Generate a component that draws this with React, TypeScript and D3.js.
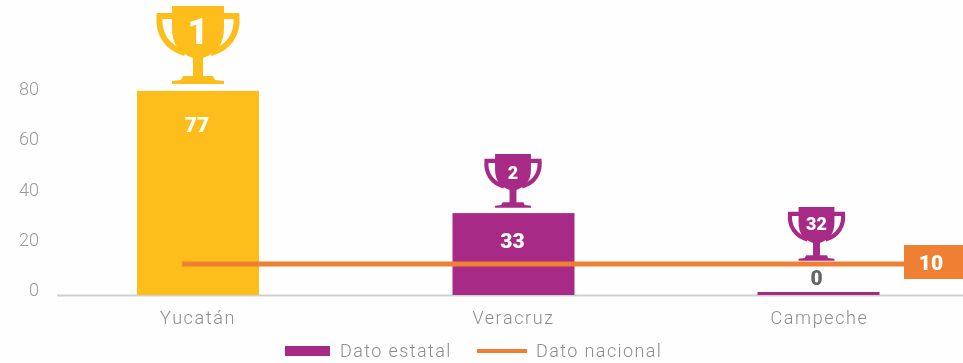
import React from "react";
import * as d3 from "d3";

const categories = ["Yucatán", "Veracruz", "Campeche"];
const barHeights = [81, 32.5, 1.2];
const barLabels = ["77", "33", "0"];
const ranks = ["1", "2", "32"];
const nationalLevel = 12.3;
const nationalLabel = "10";
const yTicks = [0, 20, 40, 60, 80];

const W = 963, H = 363;
const YELLOW = "#FDBE1A", PURPLE = "#A62B86", ORANGE = "#EF7F30";
const FONT = "Roboto, sans-serif";

const x = d3.scaleOrdinal<string, number>().domain(categories).range([198, 513.5, 818.5]);
const y = d3.scaleLinear().domain([0, 80]).range([295, 93.4]);
const barW = 122;

// trophy in a 82 x 78 box, origin top-left
const trophyPath = (() => {
  const p = d3.path();
  p.moveTo(15, 0); p.lineTo(67, 0); p.lineTo(67, 22);
  p.bezierCurveTo(67, 38, 60, 47, 46, 52);
  p.lineTo(46, 70); p.lineTo(56, 70); p.lineTo(58, 74); p.lineTo(67, 75); p.lineTo(67, 78);
  p.lineTo(15, 78); p.lineTo(15, 75); p.lineTo(24, 74); p.lineTo(26, 70); p.lineTo(36, 70);
  p.lineTo(36, 52);
  p.bezierCurveTo(22, 47, 15, 38, 15, 22);
  p.closePath();
  return p.toString();
})();
const handleL = (() => {
  const p = d3.path();
  p.moveTo(16, 10); p.lineTo(2.5, 10); p.bezierCurveTo(1, 28, 10, 42, 28, 47);
  return p.toString();
})();
const handleR = (() => {
  const p = d3.path();
  p.moveTo(66, 10); p.lineTo(79.5, 10); p.bezierCurveTo(81, 28, 72, 42, 54, 47);
  return p.toString();
})();

function Trophy({ cx, top, scale, color, label, size, ly }: any) {
  return (
    <g transform={`translate(${cx - 41 * scale},${top}) scale(${scale})`}>
      <path d={handleL} fill="none" stroke={color} strokeWidth={6} />
      <path d={handleR} fill="none" stroke={color} strokeWidth={6} />
      <path d={trophyPath} fill={color} />
      <text x={41} y={ly} textAnchor="middle" fontFamily={FONT} fontWeight={900} fontSize={size} fill="#fff">{label}</text>
    </g>
  );
}

export default function App() {
  const base = y(0);
  const lineY = y(nationalLevel);
  const trophyTop = [6, 154, 207];
  const trophyScale = [1, 0.69, 0.69];
  const trophySize = [36, 26, 26];
  const trophyLy = [38, 36, 33];
  return (
    <svg width={W} height={H} style={{ position: "absolute", left: 0, top: 0, background: "#fefefe" }}>
      <defs>
        <filter id="soft" x="-5%" y="-5%" width="110%" height="110%">
          <feGaussianBlur stdDeviation="0.6" />
        </filter>
      </defs>
      <g filter="url(#soft)">
        {yTicks.map((t) => (
          <text key={t} x={39} y={y(t) - 5} dy="0.36em" textAnchor="end" fontFamily={FONT} fontWeight={300} fontSize={18} fill="#999">{t}</text>
        ))}
        <line x1={57} x2={W} y1={base + 0.5} y2={base + 0.5} stroke="#cfcfcf" strokeWidth={2} />
        {categories.map((c, i) => (
          <rect key={c} x={x(c) - barW / 2} y={y(barHeights[i])} width={barW} height={base - y(barHeights[i])}
            fill={i === 0 ? YELLOW : PURPLE} />
        ))}
        {categories.map((c, i) => (
          <Trophy key={c} cx={x(c) + (i === 2 ? -2 : i === 1 ? -0.5 : 0)} top={trophyTop[i]} scale={trophyScale[i]}
            color={i === 0 ? YELLOW : PURPLE} label={ranks[i]} size={trophySize[i]} ly={trophyLy[i]} />
        ))}
        <rect x={182} y={lineY - 2.5} width={724} height={5} fill={ORANGE} />
        <rect x={904} y={245} width={59} height={34} fill={ORANGE} />
        <text x={931} y={262} dy="0.36em" textAnchor="middle" fontFamily={FONT} fontWeight={900} fontSize={21} fill="#fff">{nationalLabel}</text>
        {categories.map((c, i) => (
          <text key={c} x={x(c) + (i === 2 ? -2 : -1)} y={i === 2 ? 277 : i === 1 ? 240 : 124} dy="0.36em" textAnchor="middle"
            fontFamily={FONT} fontWeight={900} fontSize={21} fill={i === 2 ? "#666" : "#fff"}>{barLabels[i]}</text>
        ))}
        {categories.map((c, i) => (
          <text key={c} x={x(c) + (i === 2 ? 1 : 0)} y={318} dy="0.36em" textAnchor="middle" fontFamily={FONT} fontWeight={300}
            fontSize={18} letterSpacing={1.6} fill="#8c8c8c">{c}</text>
        ))}
        <rect x={285} y={346} width={45} height={10} fill={PURPLE} />
        <text x={340} y={351} dy="0.36em" fontFamily={FONT} fontWeight={300} fontSize={18} letterSpacing={1.4} fill="#8c8c8c">Dato estatal</text>
        <rect x={477} y={349} width={50} height={4} fill={ORANGE} />
        <text x={536} y={351} dy="0.36em" fontFamily={FONT} fontWeight={300} fontSize={18} letterSpacing={1.4} fill="#8c8c8c">Dato nacional</text>
      </g>
    </svg>
  );
}
